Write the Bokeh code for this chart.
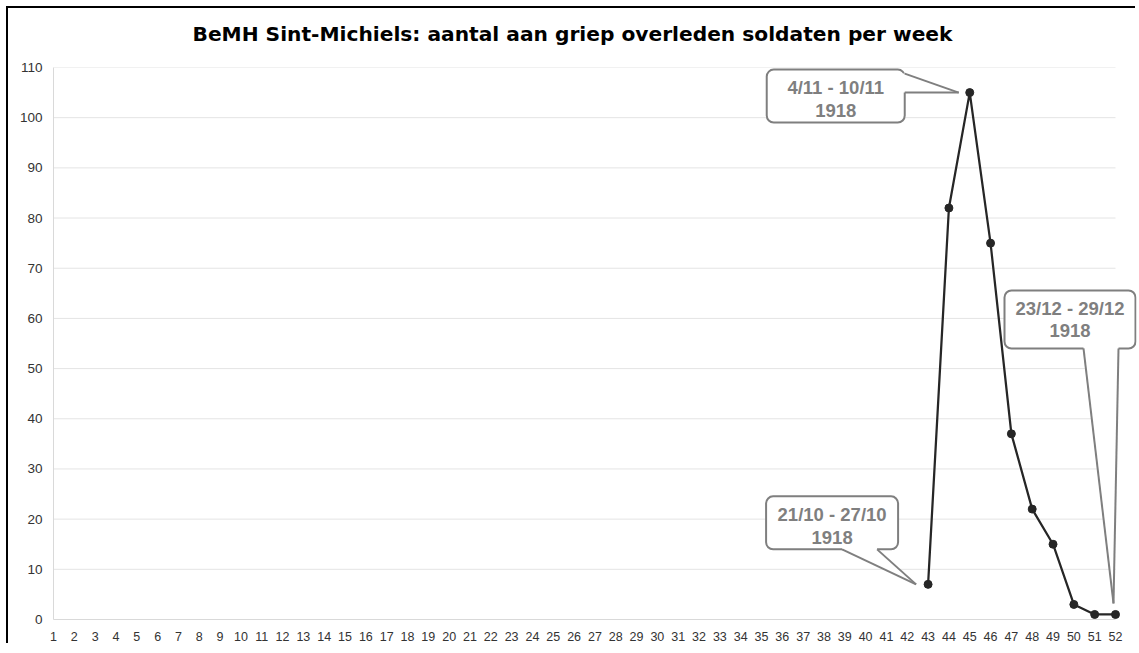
from bokeh.plotting import figure
from bokeh.models import Range1d, FixedTicker, Div
from bokeh.layouts import column
from bokeh.core.properties import value
from bokeh.embed import file_html
from bokeh.resources import INLINE

# ---------------- data ----------------
title_text = "BeMH Sint-Michiels: aantal aan griep overleden soldaten per week"
weeks = list(range(1, 53))
y_ticks = [0, 10, 20, 30, 40, 50, 60, 70, 80, 90, 100, 110]
data_weeks = [43, 44, 45, 46, 47, 48, 49, 50, 51, 52]
deaths = [7, 82, 105, 75, 37, 22, 15, 3, 1, 1]

callout_texts = ["4/11 - 10/11\n1918", "21/10 - 27/10\n1918", "23/12 - 29/12\n1918"]
callout_weeks = [45, 43, 52]
callout_values = [105, 7, 1]

# ---------------- layout ----------------
W = 1129
TITLE_H = 52
ML, MR, MT, MB = 45, 1, 7, 26
frame_h = 552
H = MT + frame_h + MB
frame_w = W - ML - MR
span_px = 1062.0                      # pixels between first and last week
px_week = span_px / (weeks[-1] - weeks[0])
px_unit = frame_h / y_ticks[-1]
x_end = weeks[0] + frame_w / px_week

FONT = value("Liberation Sans")
GRAY = "#7f7f7f"

title_div = Div(
    text=('<div style="font-family: \'DejaVu Sans\'; font-size: 20.2px; font-weight: bold; '
          'color: #000; line-height: 20px; padding-top: 16px; padding-left: 5px; '
          'text-align: center; width: %dpx; white-space: nowrap;">%s</div>') % (W - 5, title_text),
    width=W, height=TITLE_H, margin=0)

p = figure(width=W, height=H, output_backend="svg", toolbar_location=None, margin=0,
           x_range=Range1d(weeks[0], x_end), y_range=Range1d(y_ticks[0], y_ticks[-1]),
           min_border_left=ML, min_border_right=MR, min_border_top=MT, min_border_bottom=MB)
p.outline_line_color = None
p.background_fill_color = "white"
p.border_fill_color = "white"

p.xgrid.visible = False
p.ygrid.visible = False

for ax in (p.xaxis, p.yaxis):
    ax.axis_line_color = "#d9d9d9"
    ax.axis_line_width = 1
    ax.major_tick_line_color = None
    ax.minor_tick_line_color = None
    ax.major_tick_out = 0
    ax.major_tick_in = 0
    ax.major_label_text_font = "Liberation Sans"
    ax.major_label_text_color = "#333333"

p.xaxis.major_label_text_font_size = "12.5px"
p.xaxis.major_label_standoff = 12
p.yaxis.major_label_text_font_size = "13.5px"
p.yaxis.major_label_standoff = 11

p.xaxis.ticker = FixedTicker(ticks=weeks)
p.xaxis.bounds = (weeks[0], weeks[-1])
p.yaxis.ticker = FixedTicker(ticks=y_ticks)

# horizontal gridlines, limited to the week span
gy = y_ticks[1:]
p.segment(x0=[weeks[0]] * len(gy), x1=[weeks[-1]] * len(gy), y0=gy, y1=gy,
          line_color="#e4e4e4", line_width=1)

# data line
p.line(data_weeks, deaths, line_color="#262626", line_width=2.25)
p.scatter(data_weeks, deaths, size=8, marker="circle", fill_color="#262626", line_color="#262626")

# ---------------- callouts (pixel offsets relative to anchor point) ----------------
# box: (left, right, top, bottom) offsets; base: two points on the box edge; tip point; screen y down
boxes = [(-203, -65, -23, 30), (-162, -30, -88, -35), (-111, 20, -324, -266)]
bases = [((-65, -19), (-65, 0)), ((-86, -35), (-51, -35)), ((-32, -266), (3, -266))]
inward = [(-3, 0), (0, -3), (0, -3)]
tips = [(-11, 0), (-12, 0), (-2, -11)]
text_dy = [3, 3, 0]

def to_data(ax, ay, dx, dy):
    return ax + dx / px_week, ay - dy / px_unit

for i in range(3):
    ax_, ay_ = callout_weeks[i], callout_values[i]
    l, r, t, b = boxes[i]
    left, top = to_data(ax_, ay_, l, t)
    right, bottom = to_data(ax_, ay_, r, b)
    p.quad(left=[left], right=[right], top=[top], bottom=[bottom], border_radius=7,
           fill_color="white", line_color=GRAY, line_width=2)
    (b1x, b1y), (b2x, b2y) = bases[i]
    ix, iy = inward[i]
    tx, ty = tips[i]
    P1 = to_data(ax_, ay_, b1x + ix, b1y + iy)
    P2 = to_data(ax_, ay_, b2x + ix, b2y + iy)
    T = to_data(ax_, ay_, tx, ty)
    B1 = to_data(ax_, ay_, b1x, b1y)
    B2 = to_data(ax_, ay_, b2x, b2y)
    p.patch([P1[0], B1[0], T[0], B2[0], P2[0]], [P1[1], B1[1], T[1], B2[1], P2[1]],
            fill_color="white", line_color=None)
    p.multi_line([[B1[0], T[0]], [B2[0], T[0]]], [[B1[1], T[1]], [B2[1], T[1]]],
                 line_color=GRAY, line_width=2)
    cx, cy = to_data(ax_, ay_, (l + r) / 2, (t + b) / 2 + text_dy[i])
    p.text(x=[cx], y=[cy], text=[callout_texts[i]], text_align="center", text_baseline="middle",
           text_font=FONT, text_font_style="bold", text_font_size="18.5px",
           text_color=GRAY, text_line_height=1.07)

layout = column(title_div, p, spacing=0, margin=0)
layout.styles = {"margin-left": "8px", "margin-top": "8px", "background-color": "white",
                 "box-shadow": "-2px -2px 0px 0px #000000"}

open("out.html", "w").write(file_html(layout, INLINE))
